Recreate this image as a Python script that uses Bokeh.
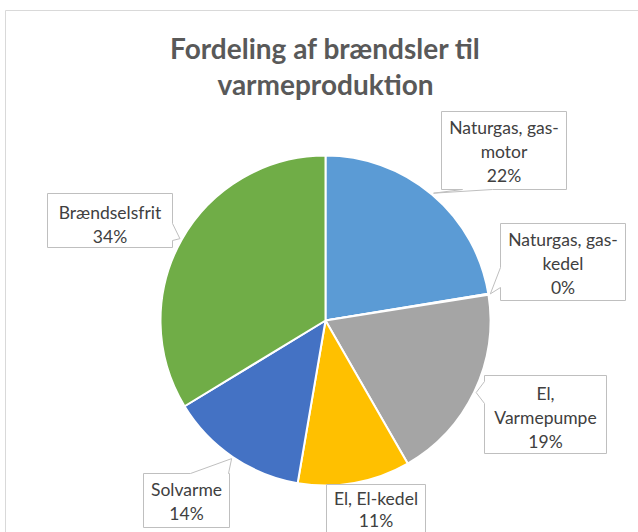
import math
from bokeh.plotting import figure
from bokeh.models import Range1d
from bokeh.core.properties import value
from bokeh.embed import file_html
from bokeh.resources import INLINE

# ---------------- data ----------------
title_lines = ["Fordeling af brændsler til", "varmeproduktion"]
categories = ["Naturgas, gas-motor", "Naturgas, gas-kedel", "El, Varmepumpe",
              "El, El-kedel", "Solvarme", "Brændselsfrit"]
label_lines = [["Naturgas, gas-", "motor"], ["Naturgas, gas-", "kedel"],
               ["El,", "Varmepumpe"], ["El, El-kedel"], ["Solvarme"], ["Brændselsfrit"]]
shares = [22.4, 0.1, 19.2, 11.0, 13.6, 33.7]
colors = ["#5B9BD5", "#ED7D31", "#A5A5A5", "#FFC000", "#4472C4", "#70AD47"]

# ---------------- layout (reference pixel space) ----------------
W, H = 638, 532
CX, CY, R = 325, 320, 165
TIP_R = 167
LINE_H = 24
# label boxes: left, top, right, bottom, pointer side, pointer base (a, b)
boxes = [
    (441, 111, 566, 189, "bottom", (462, 492)),
    (500, 223, 625, 300, "left", (267, 287)),
    (484, 375, 606, 453, "left", (381, 403)),
    (326, 484, 425, 548, None, None),
    (143, 473, 229, 527, "top", (190, 228)),
    (47, 193, 172, 247, "right", (223, 240)),
]
first_line_y = [127, 239, 393, 498, 489, 212]
line_gap = [LINE_H, LINE_H, LINE_H, 22, LINE_H, LINE_H]

p = figure(width=W, height=H,
           x_range=Range1d(0, W), y_range=Range1d(-H, 0),
           x_axis_type=None, y_axis_type=None, output_backend="svg",
           toolbar_location=None, min_border=0)
p.grid.visible = False
p.outline_line_color = None
p.background_fill_color = "white"
p.border_fill_color = "white"

# chart area frame
p.quad(left=5, right=800, top=-10, bottom=-800, fill_color=None,
       line_color="#D9D9D9", line_width=1)

# pie
total = sum(shares)
cum = [0.0]
for v in shares:
    cum.append(cum[-1] + v / total)
starts = [math.pi / 2 - 2 * math.pi * c for c in cum[:-1]]
ends = [math.pi / 2 - 2 * math.pi * c for c in cum[1:]]
p.wedge(x=[CX] * len(shares), y=[-CY] * len(shares), radius=R,
        start_angle=starts, end_angle=ends, direction="clock",
        fill_color=colors, line_color="white", line_width=2)

# callouts
xs, ys = [], []
for i, (L, T, Rr, B, side, base) in enumerate(boxes):
    mid = (cum[i] + cum[i + 1]) / 2 * 2 * math.pi
    tx = CX + TIP_R * math.sin(mid)
    ty = CY - TIP_R * math.cos(mid)
    if side == "bottom":
        pts = [(L, T), (Rr, T), (Rr, B), (base[1], B), (tx, ty), (base[0], B), (L, B)]
    elif side == "left":
        pts = [(L, T), (Rr, T), (Rr, B), (L, B), (L, base[1]), (tx, ty), (L, base[0])]
    elif side == "top":
        pts = [(L, T), (base[0], T), (tx, ty), (base[1], T), (Rr, T), (Rr, B), (L, B)]
    elif side == "right":
        pts = [(L, T), (Rr, T), (Rr, base[0]), (tx, ty), (Rr, base[1]), (Rr, B), (L, B)]
    else:
        pts = [(L, T), (Rr, T), (Rr, B), (L, B)]
    xs.append([q[0] for q in pts])
    ys.append([-q[1] for q in pts])
p.patches(xs=xs, ys=ys, fill_color="white", line_color="#BFBFBF", line_width=1)

# label texts
tx_, ty_, tt_ = [], [], []
for i, (L, T, Rr, B, side, base) in enumerate(boxes):
    lines = label_lines[i] + [f"{round(shares[i] / total * 100):.0f}%"]
    for k, s in enumerate(lines):
        tx_.append((L + Rr) / 2)
        ty_.append(-(first_line_y[i] + k * line_gap[i]))
        tt_.append(s)
p.text(x=tx_, y=ty_, text=tt_, text_font=value("Lato"),
       text_font_size="17.5px", text_color="#404040",
       text_align="center", text_baseline="middle")

# title
p.text(x=[325, 325], y=[-47, -83], text=title_lines, text_font=value("Lato"),
       text_font_size="28px", text_font_style="bold",
       text_color="#595959", text_align="center", text_baseline="middle")

open("out.html", "w").write(file_html(p, INLINE))
